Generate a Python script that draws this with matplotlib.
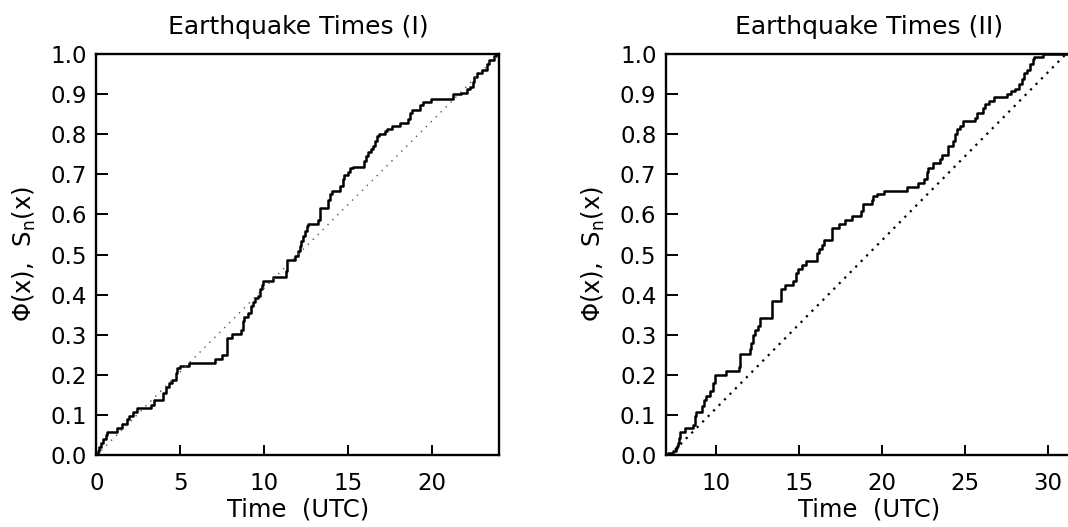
import matplotlib
matplotlib.use('Agg')
import matplotlib.pyplot as plt

t1 = [0.0, 0.10, 0.18, 0.26, 0.42, 0.56, 0.66, 1.25, 1.55, 1.85, 1.95, 2.20, 2.44,
      3.24, 3.43, 3.97, 4.13, 4.33, 4.53, 4.72, 4.82, 4.98, 5.52, 7.05, 7.50, 7.80,
      8.06, 8.59, 8.71, 8.79, 9.05, 9.19, 9.31, 9.45, 9.64, 9.74, 9.84, 9.94, 10.50,
      11.29, 11.37, 11.83, 12.03, 12.12, 12.18, 12.32, 12.42, 12.52, 12.62, 13.22,
      13.32, 13.81, 13.91, 14.01, 14.51, 14.67, 14.76, 15.00, 15.10, 15.26, 15.93,
      16.05, 16.19, 16.33, 16.45, 16.59, 16.73, 16.85, 17.18, 17.28, 17.58, 18.08,
      18.57, 18.67, 18.77, 19.27, 19.43, 19.90, 21.25, 21.69, 22.05, 22.24, 22.40,
      22.48, 22.64, 22.94, 23.28, 23.39, 23.67, 23.77, 24.0]
s1 = [0.0, 0.010, 0.020, 0.030, 0.040, 0.050, 0.059, 0.069, 0.078, 0.090, 0.098,
      0.109, 0.118, 0.126, 0.138, 0.155, 0.170, 0.180, 0.188, 0.205, 0.217, 0.223,
      0.231, 0.240, 0.250, 0.292, 0.302, 0.313, 0.334, 0.344, 0.355, 0.371, 0.381,
      0.392, 0.396, 0.413, 0.425, 0.435, 0.443, 0.458, 0.486, 0.496, 0.508, 0.521,
      0.533, 0.546, 0.558, 0.571, 0.577, 0.587, 0.616, 0.637, 0.650, 0.658, 0.670,
      0.687, 0.697, 0.705, 0.716, 0.719, 0.733, 0.745, 0.755, 0.764, 0.770, 0.783,
      0.795, 0.799, 0.808, 0.813, 0.820, 0.828, 0.837, 0.853, 0.860, 0.872, 0.880,
      0.888, 0.899, 0.903, 0.911, 0.918, 0.930, 0.943, 0.951, 0.960, 0.974, 0.985,
      0.995, 1.0, 1.0]

t2 = [7.0, 7.11, 7.41, 7.57, 7.65, 7.71, 7.77, 7.85, 8.11, 8.61, 8.72, 8.82, 9.18,
      9.28, 9.42, 9.62, 9.82, 9.92, 10.58, 11.39, 11.47, 12.03, 12.13, 12.23, 12.33,
      12.53, 12.67, 13.39, 13.94, 14.14, 14.64, 14.84, 14.94, 15.20, 15.40, 16.10,
      16.22, 16.37, 16.51, 16.97, 17.43, 17.77, 18.17, 18.71, 18.88, 19.38, 19.48,
      19.72, 20.12, 21.49, 22.19, 22.53, 22.69, 22.79, 23.05, 23.49, 23.59, 24.00,
      24.30, 24.40, 24.50, 24.70, 24.90, 25.60, 25.70, 26.10, 26.20, 26.47, 26.75,
      27.51, 27.75, 28.01, 28.27, 28.41, 28.55, 28.72, 28.92, 29.08, 29.18, 29.72, 31.4]
s2 = [0.0, 0.007, 0.012, 0.018, 0.024, 0.030, 0.043, 0.059, 0.068, 0.076, 0.097,
      0.108, 0.122, 0.138, 0.149, 0.161, 0.180, 0.200, 0.211, 0.221, 0.252, 0.265,
      0.280, 0.300, 0.313, 0.321, 0.342, 0.384, 0.413, 0.423, 0.433, 0.454, 0.465,
      0.475, 0.485, 0.504, 0.514, 0.525, 0.537, 0.566, 0.577, 0.586, 0.597, 0.608,
      0.627, 0.637, 0.645, 0.650, 0.658, 0.669, 0.677, 0.687, 0.705, 0.716, 0.727,
      0.737, 0.747, 0.770, 0.783, 0.799, 0.812, 0.820, 0.832, 0.841, 0.853, 0.866,
      0.874, 0.882, 0.891, 0.899, 0.907, 0.913, 0.924, 0.938, 0.951, 0.960, 0.974,
      0.986, 0.993, 1.0, 1.0]

# uniform model Phi(x)
phi1_x = [0.0, 24.0]
phi2_x = [7.2, 31.1]
phi_y = [0.0, 1.0]

titles = ['Earthquake Times (I)', 'Earthquake Times (II)']
yticks = [0.0, 0.1, 0.2, 0.3, 0.4, 0.5, 0.6, 0.7, 0.8, 0.9, 1.0]

plt.rcParams['font.family'] = 'DejaVu Sans'
fig = plt.figure(figsize=(10.68, 5.27), dpi=100)
ax1 = fig.add_axes([96.3/1068, 1-455.4/527, 403.2/1068, 401.7/527])
ax2 = fig.add_axes([666.2/1068, 1-455.4/527, (1072-666.2)/1068, 401.7/527])

ax1.step(t1, s1, where='post', color='black', lw=1.8)
ax1.plot(phi1_x, phi_y, color='#555555', lw=1.0, ls=(0, (1, 4)))
ax1.set_xlim(0, 24)
ax1.set_xticks([0, 5, 10, 15, 20])

ax2.step(t2, s2, where='post', color='black', lw=1.8)
ax2.plot(phi2_x, phi_y, color='black', lw=1.6, ls=(0, (1, 2.5)))
ax2.set_xlim(7, 7 + (1072-666.2)/16.6)
ax2.set_xticks([10, 15, 20, 25, 30])

for ax, title in zip([ax1, ax2], titles):
    ax.set_ylim(0, 1)
    ax.set_yticks(yticks)
    ax.set_yticklabels(['%.1f' % v for v in yticks])
    ax.tick_params(axis='y', direction='in', length=8.5, width=1.4, pad=7, labelsize=16.5)
    ax.tick_params(axis='x', direction='in', length=7, width=1.4, pad=12, labelsize=16.5)
    for sp in ax.spines.values():
        sp.set_linewidth(1.7)
    ax.set_title(title, fontsize=18, pad=14)
    ax.set_xlabel('Time  (UTC)', fontsize=17.5, labelpad=2)
    ax.set_ylabel(r'$\mathregular{\Phi}$(x),  S$_\mathregular{n}$(x)', fontsize=17.5, labelpad=9)

fig.savefig('out.png', dpi=100)
